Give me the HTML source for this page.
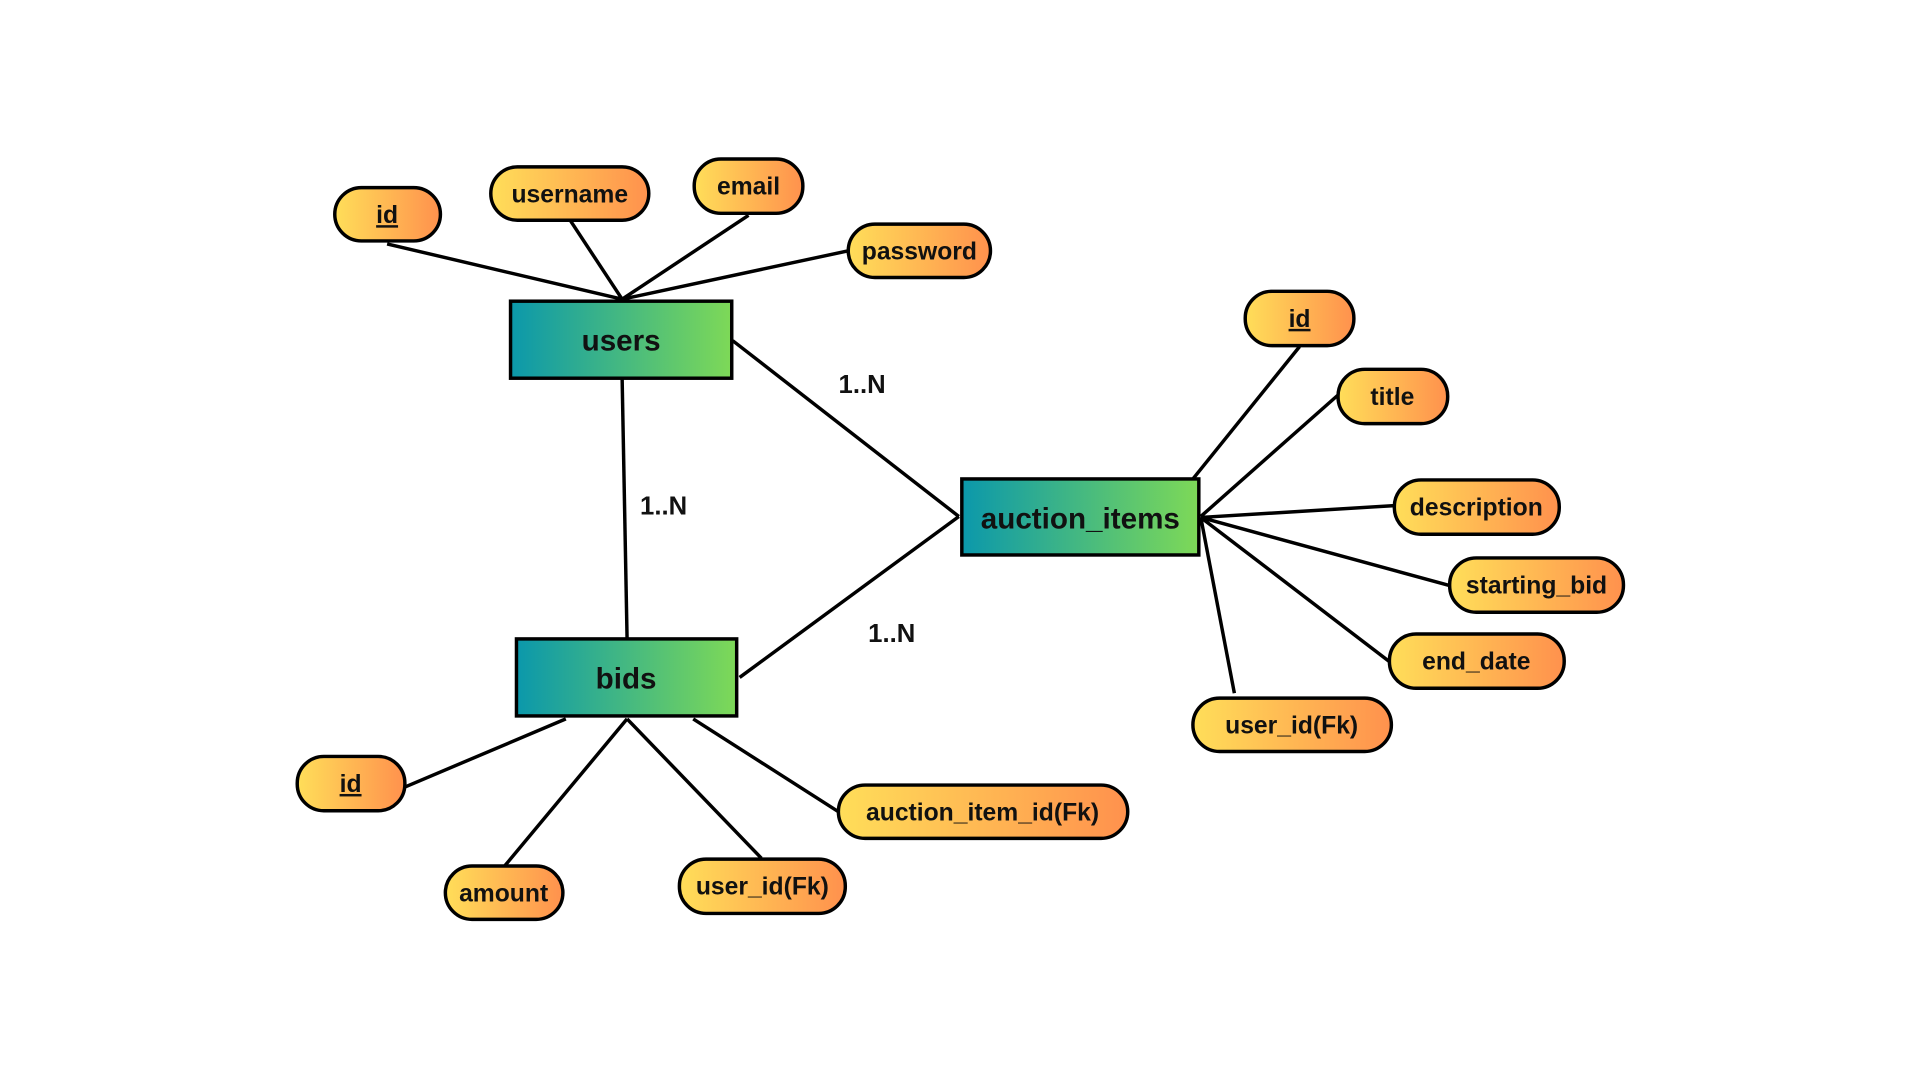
<!DOCTYPE html>
<html><head><meta charset="utf-8"><style>html,body{margin:0;padding:0;background:#fff}svg{display:block}</style></head>
<body>
<svg width="1920" height="1080" viewBox="0 0 1920 1080" xmlns="http://www.w3.org/2000/svg" font-family="Liberation Sans, sans-serif" font-weight="bold">
<defs>
<linearGradient id="e" x1="0" x2="1" y1="0" y2="0"><stop offset="0" stop-color="#0b98ab"/><stop offset="1" stop-color="#7ed957"/></linearGradient>
<linearGradient id="a" x1="0" x2="1" y1="0" y2="0"><stop offset="0" stop-color="#ffde59"/><stop offset="1" stop-color="#ff914d"/></linearGradient>
</defs>
<g transform="scale(0.9875)">
<g stroke="#000" stroke-width="3.5" fill="none">
<line x1="392" y1="247" x2="630" y2="303"/>
<line x1="578" y1="224" x2="630" y2="303"/>
<line x1="758" y1="218" x2="630" y2="303"/>
<line x1="859" y1="254" x2="630" y2="303"/>
<line x1="1316" y1="351" x2="1208" y2="485"/>
<line x1="1355" y1="400" x2="1216" y2="523"/>
<line x1="1412" y1="512" x2="1216" y2="524"/>
<line x1="1468" y1="593" x2="1216" y2="524"/>
<line x1="1407" y1="670" x2="1216" y2="524"/>
<line x1="1250" y1="702" x2="1216" y2="524"/>
<line x1="410" y1="797" x2="573" y2="728"/>
<line x1="511" y1="877" x2="635" y2="728"/>
<line x1="771" y1="869" x2="635" y2="728"/>
<line x1="849" y1="822" x2="702" y2="728"/>
<line x1="742" y1="345" x2="971" y2="523"/>
<line x1="630" y1="383" x2="635" y2="646"/>
<line x1="749" y1="686" x2="971" y2="523"/>
</g>
<g stroke="#000" stroke-width="3.5" fill="url(#e)">
<rect x="517" y="305" width="224" height="78"/>
<rect x="974" y="485" width="240" height="77"/>
<rect x="523" y="647" width="223" height="78"/>
</g>
<g font-size="30" text-anchor="middle" fill="#111">
<text x="629" y="355">users</text>
<text x="1094" y="535">auction_items</text>
<text x="634" y="697">bids</text>
</g>
<g font-size="26" fill="#111">
<text x="873" y="398" text-anchor="middle">1..N</text>
<text x="672" y="521" text-anchor="middle">1..N</text>
<text x="903" y="650" text-anchor="middle">1..N</text>
</g>
<g stroke="#000" stroke-width="3.5" fill="url(#a)">
<rect x="339" y="190" width="107" height="54" rx="27"/>
<rect x="497" y="169" width="160" height="54" rx="27"/>
<rect x="703" y="161" width="110" height="55" rx="27"/>
<rect x="859" y="227" width="144" height="54" rx="27"/>
<rect x="1261" y="295" width="110" height="55" rx="27"/>
<rect x="1355" y="374" width="111" height="55" rx="27"/>
<rect x="1412" y="486" width="167" height="55" rx="27"/>
<rect x="1468" y="565" width="176" height="55" rx="27"/>
<rect x="1407" y="642" width="177" height="55" rx="27"/>
<rect x="1208" y="707" width="201" height="54" rx="27"/>
<rect x="301" y="766" width="109" height="55" rx="27"/>
<rect x="451" y="877" width="119" height="54" rx="27"/>
<rect x="688" y="870" width="168" height="55" rx="27"/>
<rect x="849" y="795" width="293" height="54" rx="27"/>
</g>
<g font-size="25" text-anchor="middle" fill="#111">
<text x="392" y="226" text-decoration="underline">id</text>
<text x="577" y="205">username</text>
<text x="758" y="197">email</text>
<text x="931" y="263">password</text>
<text x="1316" y="331" text-decoration="underline">id</text>
<text x="1410" y="410">title</text>
<text x="1495" y="522">description</text>
<text x="1556" y="601">starting_bid</text>
<text x="1495" y="678">end_date</text>
<text x="1308" y="743">user_id(Fk)</text>
<text x="355" y="802" text-decoration="underline">id</text>
<text x="510" y="913">amount</text>
<text x="772" y="906">user_id(Fk)</text>
<text x="995" y="831">auction_item_id(Fk)</text>
</g>
</g>
</svg>
</body></html>
